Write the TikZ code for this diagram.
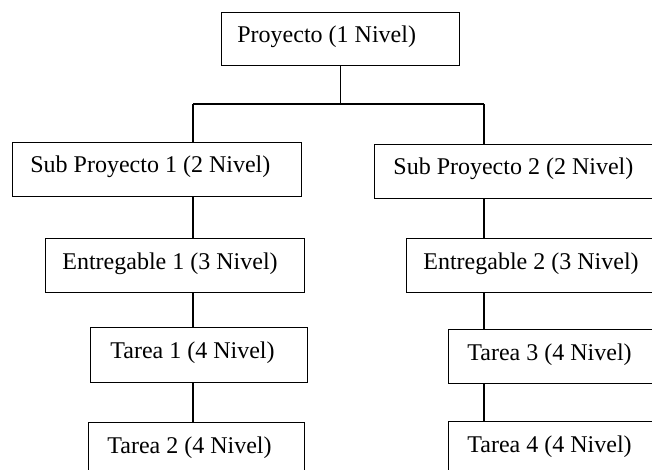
\documentclass[tikz,border=0pt]{standalone}
\usepackage{fontspec}
\setmainfont{Liberation Serif}
\begin{document}
\begin{tikzpicture}[x=0.5pt,y=-0.5pt,
  box/.style={draw=black,line width=0.65pt,anchor=north west,inner sep=0pt,fill=white},
  lbl/.style={anchor=base west,inner sep=0pt,font=\fontsize{12}{14}\selectfont},
  conn/.style={draw=black,line width=0.65pt}]
\useasboundingbox (0,0) rectangle (652,470);
\clip (0,0) rectangle (652,470);
% boxes
\node[box,minimum width=119pt,minimum height=26.5pt] (P) at (221,12) {};
\node[box,minimum width=144.5pt,minimum height=27pt] (S1) at (12,142) {};
\node[box,minimum width=129.5pt,minimum height=27pt] (E1) at (45,238) {};
\node[box,minimum width=108.5pt,minimum height=27.5pt] (T1) at (90,327) {};
\node[box,minimum width=108pt,minimum height=27pt] (T2) at (88,422) {};
\node[box,minimum width=146pt,minimum height=27pt] (S2) at (374,144) {};
\node[box,minimum width=131pt,minimum height=27pt] (E2) at (406,238) {};
\node[box,minimum width=110pt,minimum height=27pt] (T3) at (448,329) {};
\node[box,minimum width=110pt,minimum height=27pt] (T4) at (448,421) {};
% labels
\node[lbl] (Pt) at (237,43) {Proyecto (1 Nivel)};
\node[lbl] (S1t) at (30,173) {Sub Proyecto 1 (2 Nivel)};
\node[lbl] (E1t) at (62,269) {Entregable 1 (3 Nivel)};
\node[lbl] (T1t) at (110,358) {Tarea 1 (4 Nivel)};
\node[lbl] (T2t) at (107,453) {Tarea 2 (4 Nivel)};
\node[lbl] (S2t) at (393,175) {Sub Proyecto 2 (2 Nivel)};
\node[lbl] (E2t) at (423,269) {Entregable 2 (3 Nivel)};
\node[lbl] (T3t) at (467,360) {Tarea 3 (4 Nivel)};
\node[lbl] (T4t) at (467,452) {Tarea 4 (4 Nivel)};
% guide coordinates
\coordinate (bus) at (0,104);
\coordinate (lx) at (193,0);
\coordinate (rx) at (484,0);
% connectors
\draw[conn] (P.south) -- (P.south |- bus);
\draw[conn] (lx |- bus) -- (rx |- bus);
\draw[conn] (lx |- bus) -- (lx |- S1.north);
\draw[conn] (rx |- bus) -- (rx |- S2.north);
\draw[conn] (lx |- S1.south) -- (lx |- E1.north);
\draw[conn] (lx |- E1.south) -- (lx |- T1.north);
\draw[conn] (lx |- T1.south) -- (lx |- T2.north);
\draw[conn] (rx |- S2.south) -- (rx |- E2.north);
\draw[conn] (rx |- E2.south) -- (rx |- T3.north);
\draw[conn] (rx |- T3.south) -- (rx |- T4.north);
\end{tikzpicture}
\end{document}
